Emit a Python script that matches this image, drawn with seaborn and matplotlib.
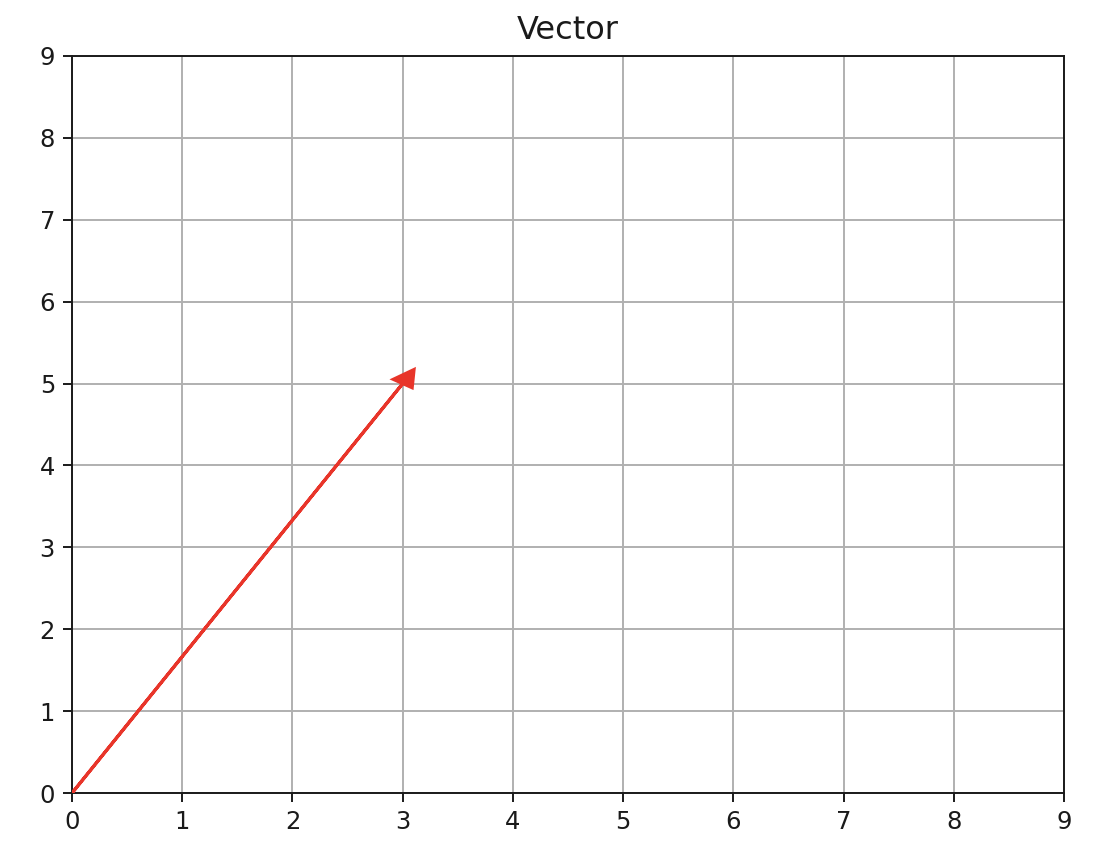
"""Single 2-D vector drawn from the origin."""
import matplotlib
matplotlib.use("Agg")
import matplotlib.pyplot as plt
import seaborn as sns

# vector data
origin_x = [0]
origin_y = [0]
vec_dx = [3]
vec_dy = [5]
ticks = list(range(10))

sns.set_theme(style="ticks", rc={
    "axes.grid": True,
    "grid.color": "#b0b0b0",
    "grid.linewidth": 0.8,
    "axes.edgecolor": "#1a1a1a",
    "axes.linewidth": 0.8,
    "xtick.color": "#1a1a1a",
    "ytick.color": "#1a1a1a",
    "text.color": "#1a1a1a",
    "xtick.major.size": 3.5,
    "ytick.major.size": 3.5,
    "xtick.major.width": 0.8,
    "ytick.major.width": 0.8,
    "axes.titlesize": 13.2,
    "font.size": 10,
    "xtick.labelsize": 10,
    "ytick.labelsize": 10,
})
plt.rcParams["font.family"] = ["DejaVu Sans"]

fig = plt.figure(figsize=(1110 / 175, 860 / 175), dpi=175)
ax = fig.add_axes([0.0649, 0.0779, 0.8937, 0.857])

for x0, y0, dx, dy in zip(origin_x, origin_y, vec_dx, vec_dy):
    ax.arrow(x0, y0, dx, dy, head_width=0.2, head_length=0.2,
             fc="#e8352a", ec="#e8352a", linewidth=1.3, zorder=3)

ax.set_xlim(ticks[0], ticks[-1])
ax.set_ylim(ticks[0], ticks[-1])
ax.set_xticks(ticks)
ax.set_yticks(ticks)
ax.set_title("Vector", pad=7)

fig.savefig("out.png", dpi=175)
plt.close(fig)
